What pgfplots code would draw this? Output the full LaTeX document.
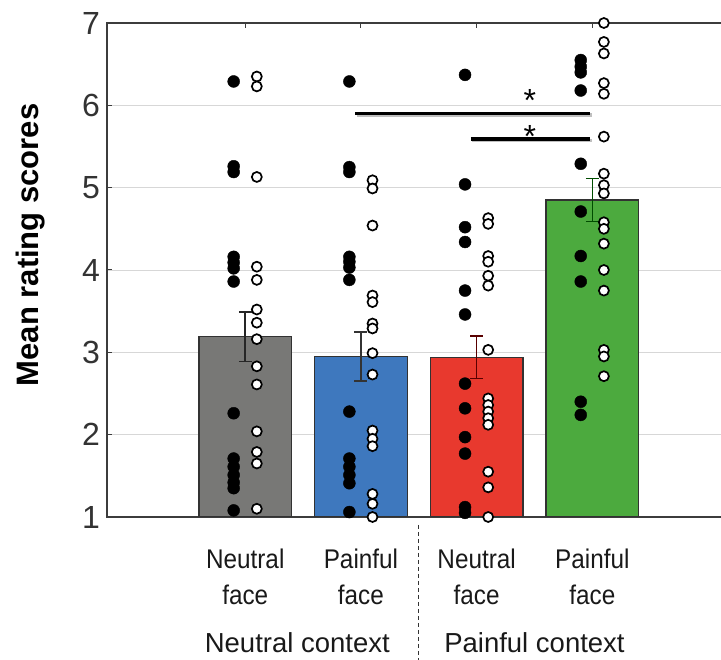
\documentclass[border=0pt]{standalone}
\usepackage{fontspec}
\setmainfont{Liberation Sans}
\newfontfamily\catfont{Liberation Sans}[FakeStretch=0.9]
\usepackage{pgfplots}
\pgfplotsset{compat=1.18}
\definecolor{graybar}{RGB}{120,120,118}
\definecolor{bluebar}{RGB}{62,120,190}
\definecolor{redbar}{RGB}{232,57,46}
\definecolor{greenbar}{RGB}{76,170,62}
\definecolor{edgec}{RGB}{50,50,50}
\definecolor{axc}{RGB}{60,60,60}
\definecolor{gridc}{RGB}{215,215,215}

\pgfplotstableread{
x y
-0.1 6.29
-0.1 5.26
-0.1 5.19
-0.1 4.16
-0.1 4.09
-0.1 4.02
-0.1 3.86
-0.1 2.26
-0.1 1.71
-0.1 1.61
-0.1 1.51
-0.1 1.42
-0.1 1.35
-0.1 1.08
0.9 6.29
0.9 5.25
0.9 5.19
0.9 4.16
0.9 4.10
0.9 4.03
0.9 3.88
0.9 2.28
0.9 1.71
0.9 1.61
0.9 1.51
0.9 1.41
0.9 1.06
1.9 6.37
1.9 5.04
1.9 4.52
1.9 4.34
1.9 3.75
1.9 3.46
1.9 2.62
1.9 2.32
1.9 1.97
1.9 1.77
1.9 1.12
1.9 1.05
2.9 6.55
2.9 6.47
2.9 6.40
2.9 6.18
2.9 5.29
2.9 4.71
2.9 4.17
2.9 3.86
2.9 2.40
2.9 2.24
}\blackdots

\pgfplotstableread{
x y
0.1 6.35
0.1 6.23
0.1 5.13
0.1 4.04
0.1 3.88
0.1 3.52
0.1 3.36
0.1 3.16
0.1 2.83
0.1 2.61
0.1 2.04
0.1 1.79
0.1 1.65
0.1 1.10
1.1 5.09
1.1 4.99
1.1 4.54
1.1 3.69
1.1 3.61
1.1 3.35
1.1 3.29
1.1 2.99
1.1 2.73
1.1 2.05
1.1 1.95
1.1 1.86
1.1 1.28
1.1 1.16
1.1 1.00
2.1 4.63
2.1 4.56
2.1 4.17
2.1 4.10
2.1 3.93
2.1 3.81
2.1 3.03
2.1 2.44
2.1 2.36
2.1 2.28
2.1 2.20
2.1 2.12
2.1 1.55
2.1 1.36
2.1 1.00
3.1 7.00
3.1 6.77
3.1 6.63
3.1 6.27
3.1 6.14
3.1 5.62
3.1 5.17
3.1 5.03
3.1 4.93
3.1 4.58
3.1 4.50
3.1 4.32
3.1 4.00
3.1 3.75
3.1 3.03
3.1 2.95
3.1 2.71
}\whitedots

\pgfplotsset{
  common/.style={
    at={(107pt,143pt)}, anchor=south west,
    scale only axis, width=618pt, height=494pt,
    xmin=-1.195, xmax=4.147, ymin=1, ymax=7,
  },
  barsty/.style={ybar, bar width=0.8, bar shift=0pt,
    fill=#1, draw=edgec, line width=1.3pt},
  errsty/.style={mark=none, draw=#1, line width=1.6pt, forget plot},
}

\begin{document}
\begin{tikzpicture}
\path[use as bounding box] (0,0) rectangle (721pt,660pt);
\begin{axis}[
  common,
  unbounded coords=jump,
  axis line style={draw=axc, line width=1.5pt},
  ytick={1,2,3,4,5,6,7},
  xtick={0,1,2,3},
  xticklabels={{Neutral\\face},{Painful\\face},{Neutral\\face},{Painful\\face}},
  tick align=inside,
  xtick pos=both, ytick pos=left,
  major tick length=5pt,
  tick style={draw=axc, line width=1pt},
  ymajorgrids,
  grid style={draw=gridc, line width=0.9pt},
  /pgf/number format/assume math mode=true,
  yticklabel style={font=\fontsize{32}{38}\selectfont, text=black!80, inner sep=0pt, xshift=-7pt},
  xticklabel style={font=\catfont\fontsize{27}{36}\selectfont, align=center, inner sep=0pt, anchor=north, yshift=-32pt, text=black!90},
  ylabel={Mean rating scores},
  ylabel style={font=\bfseries\fontsize{31}{36}\selectfont, at={(axis description cs:-0.123,0.551)}, anchor=center, rotate=0},
]
\addplot[barsty=graybar] coordinates {(0,3.19)};
\addplot[barsty=bluebar] coordinates {(1,2.95)};
\addplot[barsty=redbar] coordinates {(2,2.94)};
\addplot[barsty=greenbar] coordinates {(3,4.85)};
% error bars: mean +/- SE (cap, stem, cap)
\addplot[errsty=black!85] coordinates {(-0.056,3.49) (0.056,3.49) (nan,nan) (0,3.49) (0,2.89) (nan,nan) (-0.056,2.89) (0.056,2.89)};
\addplot[errsty=black!80] coordinates {(0.944,3.25) (1.056,3.25) (nan,nan) (1,3.25) (1,2.65) (nan,nan) (0.944,2.65) (1.056,2.65)};
\addplot[errsty=red!35!black] coordinates {(1.944,3.20) (2.056,3.20) (nan,nan) (2,3.20) (2,2.68) (nan,nan) (1.944,2.68) (2.056,2.68)};
\addplot[errsty=green!30!black] coordinates {(2.944,5.11) (3.056,5.11) (nan,nan) (3,5.11) (3,4.59) (nan,nan) (2.944,4.59) (3.056,4.59)};
\end{axis}
\begin{axis}[common, hide axis, clip=false]
\addplot[only marks, mark=*, mark size=6pt, mark options={fill=black, draw=black}] table[x=x,y=y] {\blackdots};
\addplot[only marks, mark=*, mark size=5pt, mark options={fill=white, draw=black, line width=1.7pt}] table[x=x,y=y] {\whitedots};
% significance bars
\draw[line width=3.5pt, black!25] ([xshift=1.5pt,yshift=-1.5pt]axis cs:0.95,5.9) -- ([xshift=1.5pt,yshift=-1.5pt]axis cs:2.98,5.9);
\draw[line width=3.5pt, black] (axis cs:0.95,5.9) -- (axis cs:2.98,5.9);
\draw[line width=3.5pt, black!25] ([xshift=1.5pt,yshift=-1.5pt]axis cs:1.95,5.59) -- ([xshift=1.5pt,yshift=-1.5pt]axis cs:2.98,5.59);
\draw[line width=3.5pt, black] (axis cs:1.95,5.59) -- (axis cs:2.98,5.59);
\node[anchor=base, font=\fontsize{32}{34}\selectfont, inner sep=0pt] at (axis cs:2.46,5.92) {*};
\node[anchor=base, font=\fontsize{32}{34}\selectfont, inner sep=0pt] at (axis cs:2.46,5.49) {*};
% separator and context labels
\draw[dashed, dash pattern=on 4pt off 3pt, line width=0.9pt, black!80] ([yshift=-8pt]axis cs:1.5,1) -- ([yshift=-145pt]axis cs:1.5,1);
\node[anchor=base, font=\fontsize{27.5}{30}\selectfont, text=black!90] at ([yshift=-136pt]axis cs:0.45,1) {Neutral context};
\node[anchor=base, font=\fontsize{27.5}{30}\selectfont, text=black!90] at ([yshift=-136pt]axis cs:2.5,1) {Painful context};
\end{axis}
\end{tikzpicture}
\end{document}
